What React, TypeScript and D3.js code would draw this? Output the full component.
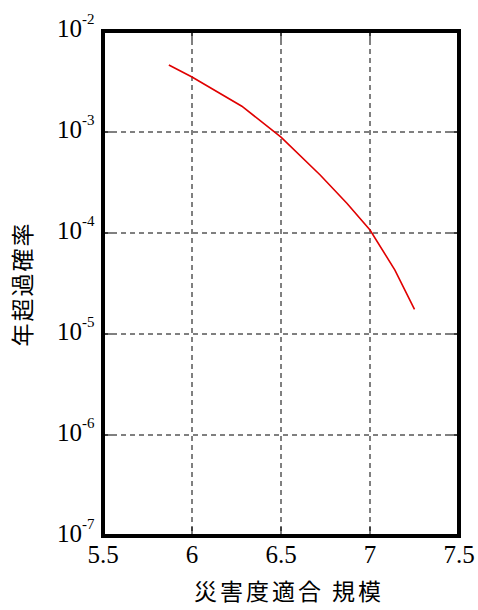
import * as d3 from "d3";

// 規模 (x) と年超過確率 (y)
const magnitude = [5.87, 6.0, 6.28, 6.5, 6.72, 6.87, 7.0, 7.14, 7.25];
const probability = [4.6e-3, 3.5e-3, 1.8e-3, 8.9e-4, 3.75e-4, 1.97e-4, 1.07e-4, 4.3e-5, 1.75e-5];
const xTicks = [5.5, 6, 6.5, 7, 7.5];
const yExponents = [-2, -3, -4, -5, -6, -7];

const xTitle = "災害度適合 規模";
const yTitle = "年超過確率";

const width = 478;
const height = 610;
const margin = { top: 31, right: 19, bottom: 74, left: 103 };
const serif = "'Liberation Serif', 'Times New Roman', serif";
const sans = "'Noto Sans CJK JP', 'Noto Sans', sans-serif";

const App = () => {
  const x = d3.scaleLinear().domain([5.5, 7.5]).range([margin.left, width - margin.right]);
  const y = d3.scaleLog().domain([1e-7, 1e-2]).range([height - margin.bottom, margin.top]);
  const bottom = height - margin.bottom;
  const right = width - margin.right;

  const line = d3.line<number>()
    .x((d, i) => x(magnitude[i]))
    .y(d => y(d));

  const inner = xTicks.slice(1, -1);
  const innerY = yExponents.slice(1, -1);

  return (
    <svg width={width} height={height}
      style={{ position: "absolute", left: 0, top: 0, background: "#fff" }}>
      {/* グリッド線 */}
      <g stroke="#000" strokeWidth={1} strokeDasharray="5,4">
        {inner.map(t => (
          <line key={"gx" + t} x1={x(t)} x2={x(t)} y1={margin.top} y2={bottom} />
        ))}
        {innerY.map(e => (
          <line key={"gy" + e} x1={margin.left} x2={right} y1={y(10 ** e)} y2={y(10 ** e)} />
        ))}
      </g>
      {/* 内向き目盛り */}
      <g stroke="#000" strokeWidth={1}>
        {inner.map(t => (
          <g key={"tx" + t}>
            <line x1={x(t)} x2={x(t)} y1={bottom} y2={bottom - 9} />
            <line x1={x(t)} x2={x(t)} y1={margin.top} y2={margin.top + 9} />
          </g>
        ))}
        {innerY.map(e => (
          <g key={"ty" + e}>
            <line x1={margin.left} x2={margin.left + 9} y1={y(10 ** e)} y2={y(10 ** e)} />
            <line x1={right} x2={right - 9} y1={y(10 ** e)} y2={y(10 ** e)} />
          </g>
        ))}
      </g>
      {/* 曲線 */}
      <path d={line(probability) ?? ""} fill="none" stroke="#e00000" strokeWidth={1.6} />
      {/* 枠 */}
      <rect x={margin.left} y={margin.top} width={right - margin.left} height={bottom - margin.top}
        fill="none" stroke="#000" strokeWidth={4} />
      {/* x目盛りラベル */}
      {xTicks.map(t => (
        <text key={"xl" + t} x={x(t)} y={563} textAnchor="middle"
          fontFamily={serif} fontSize={25}>
          {String(t)}
        </text>
      ))}
      {/* y目盛りラベル */}
      {yExponents.map(e => (
        <text key={"yl" + e} x={57} y={y(10 ** e) + 5.5} fontFamily={serif} fontSize={25}>
          <tspan>10</tspan>
          <tspan dy={-13} fontSize={15}>{String(e)}</tspan>
        </text>
      ))}
      {/* 軸タイトル */}
      <text x={289} y={600} textAnchor="middle" fontFamily={sans} fontSize={23}
        letterSpacing={3}>
        {xTitle}
      </text>
      <text transform="translate(31, 284) rotate(-90)" textAnchor="middle"
        fontFamily={sans} fontSize={23} letterSpacing={2}>
        {yTitle}
      </text>
    </svg>
  );
};

export default App;
